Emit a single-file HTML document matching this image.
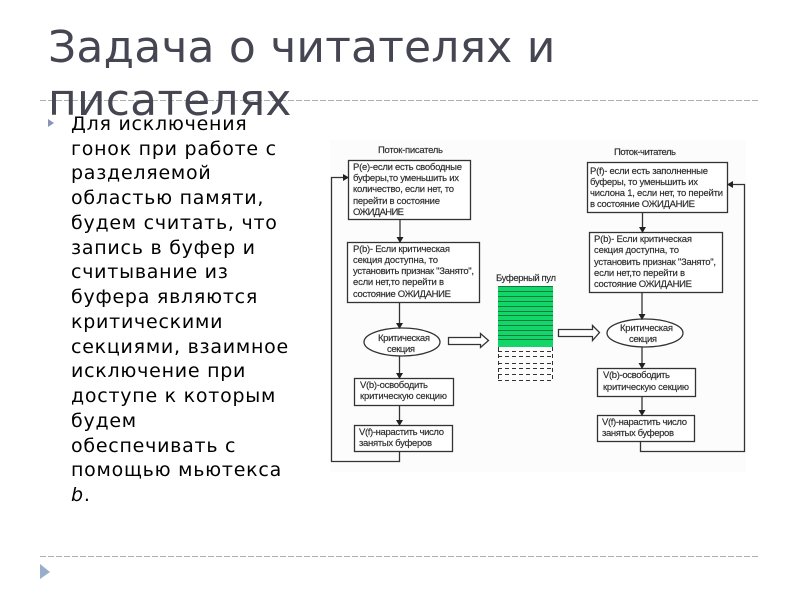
<!DOCTYPE html>
<html lang="ru"><head><meta charset="utf-8"><style>
html,body{margin:0;padding:0;background:#fff}
#p{position:relative;width:800px;height:600px;overflow:hidden;background:#fff}
.t{position:absolute;left:48px;font:44px/1 "DejaVu Sans",sans-serif;color:#464653;white-space:nowrap;letter-spacing:.2px}
.b{position:absolute;left:71px;font:19px/1 "DejaVu Sans",sans-serif;color:#000;white-space:nowrap;letter-spacing:.75px;margin-top:-1px}
svg{position:absolute;left:0;top:0}
</style></head><body><div id="p">
<svg width="800" height="600">
<line x1="40" y1="100.500" x2="760" y2="100.500" stroke="#a8b0b4" stroke-dasharray="6 2"/>
<line x1="40" y1="556.500" x2="760" y2="556.500" stroke="#a8b0b4" stroke-dasharray="6 2"/>
<polygon points="48,119 54,123 48,127" fill="#8a93b8"/>
<polygon points="40,564 50,572 40,579" fill="#98afcb"/>
<rect x="330" y="140" width="416" height="332" fill="#fcfcfc"/>
<g stroke="#333" stroke-width="1.300" fill="#fff" style="filter:blur(.3px)">
<rect x="348.500" y="160.500" width="122" height="59"/>
<rect x="347.500" y="242.500" width="132" height="60"/>
<ellipse cx="402" cy="342" rx="38" ry="14"/>
<rect x="354.500" y="378.500" width="99" height="27"/>
<rect x="354.500" y="425.500" width="98" height="26"/>
<rect x="587.500" y="162.500" width="140" height="50"/>
<rect x="589.500" y="232.500" width="133" height="60"/>
<ellipse cx="645" cy="333" rx="38" ry="14"/>
<rect x="597.500" y="368.500" width="98" height="28"/>
<rect x="597.500" y="415.500" width="97" height="26"/>
<g fill="none">
<path d="M400 219V238M399.500 302V324M399.500 356V374M399.500 405V421"/>
<path d="M399.500 451V461.500H331.500V177.500H344"/>
<path d="M642.500 212V228M642 292V315M642 347V364M642 396V411"/>
<path d="M640.500 441V451.500H744.500V184.500H732"/>
</g>
<polygon points="448.500,337.500 480.500,337.500 480.500,333.500 488.500,340.500 480.500,347.500 480.500,344.500 448.500,344.500"/>
<polygon points="558.500,329.500 592.500,329.500 592.500,325.500 599.500,332.500 592.500,340.500 592.500,336.500 558.500,336.500"/>
</g>
<g fill="#222">
<path d="M396.500 237h7l-3.500 6zM396 323h7l-3.500 6zM396 373h7l-3.500 6zM396 420h7l-3.500 6z"/>
<path d="M343 174l6 3.500-6 3.500zM733 181l-6 3.500 6 3.500z"/>
<path d="M639 227h7l-3.500 6zM638.500 314h7l-3.500 6zM638.500 363h7l-3.500 6zM638.500 410h7l-3.500 6z"/>
</g>
<rect x="498" y="286" width="55" height="61" fill="#12d768"/>
<path d="M498 286.500H553M498 291.500H553M498 296.500H553M498 301.500H553M498 306.500H553M498 311.500H553M498 315.500H553M498 320.500H553M498 325.500H553M498 330.500H553M498 335.500H553M498 339.500H553" stroke="#0b7a40" stroke-width="1"/>
<path d="M498 351.500H553M498 356.500H553M498 363.500H553M498 368.500H553M498 374.500H553M498 380.500H553M498.500 347V382M552.500 347V382" stroke="#333" stroke-width="1" stroke-dasharray="4 3"/>
<g font-family="'Liberation Sans',sans-serif" font-size="9.500" fill="#2a2a2a" stroke="#2a2a2a" stroke-width=".15" style="filter:blur(.25px)">
<text x="378" y="153" textLength="65">Поток-писатель</text>
<text x="353" y="170" textLength="109">P(e)-если есть свободные</text>
<text x="353" y="181" textLength="106">буферы,то уменьшить их</text>
<text x="353" y="192" textLength="101">количество, если нет, то</text>
<text x="353" y="204" textLength="87">перейти в состояние</text>
<text x="353" y="215" textLength="51">ОЖИДАНИЕ</text>
<text x="353" y="252" textLength="97">P(b)- Если критическая</text>
<text x="353" y="263" textLength="85">секция доступна, то</text>
<text x="353" y="274" textLength="121">установить признак "Занято",</text>
<text x="353" y="285" textLength="91">если нет,то перейти в</text>
<text x="353" y="297" textLength="98">состояние ОЖИДАНИЕ</text>
<text x="378" y="341" textLength="52">Критическая</text>
<text x="387" y="352" textLength="28">секция</text>
<text x="360" y="388" textLength="68">V(b)-освободить</text>
<text x="360" y="399" textLength="87">критическую секцию</text>
<text x="359" y="435" textLength="85">V(f)-нарастить число</text>
<text x="359" y="446" textLength="73">занятых буферов</text>
<text x="496" y="281" textLength="60">Буферный пул</text>
<text x="614" y="155" textLength="62">Поток-читатель</text>
<text x="590" y="174" textLength="118">P(f)- если есть заполненные</text>
<text x="590" y="185" textLength="108">буферы, то уменьшить их</text>
<text x="590" y="196" textLength="133">числона 1, если нет, то перейти</text>
<text x="590" y="207" textLength="105">в состояние ОЖИДАНИЕ</text>
<text x="594" y="242" textLength="98">P(b)- Если критическая</text>
<text x="594" y="253" textLength="85">секция доступна, то</text>
<text x="594" y="265" textLength="122">установить признак "Занято",</text>
<text x="594" y="276" textLength="91">если нет,то перейти в</text>
<text x="594" y="287" textLength="98">состояние ОЖИДАНИЕ</text>
<text x="620" y="331" textLength="53">Критическая</text>
<text x="629" y="342" textLength="28">секция</text>
<text x="603" y="378" textLength="67">V(b)-освободить</text>
<text x="603" y="390" textLength="86">критическую секцию</text>
<text x="602" y="425" textLength="85">V(f)-нарастить число</text>
<text x="602" y="436" textLength="72">занятых буферов</text>
</g>
</svg>
<div class="t" style="top:26px">Задача о читателях и</div>
<div class="t" style="top:79px">писателях</div>
<div class="b" style="top:116px">Для исключения</div>
<div class="b" style="top:141px">гонок при работе с</div>
<div class="b" style="top:165px">разделяемой</div>
<div class="b" style="top:190px">областью памяти,</div>
<div class="b" style="top:215px">будем считать, что</div>
<div class="b" style="top:240px">запись в буфер и</div>
<div class="b" style="top:264px">считывание из</div>
<div class="b" style="top:289px">буфера являются</div>
<div class="b" style="top:314px">критическими</div>
<div class="b" style="top:339px">секциями, взаимное</div>
<div class="b" style="top:363px">исключение при</div>
<div class="b" style="top:388px">доступе к которым</div>
<div class="b" style="top:413px">будем</div>
<div class="b" style="top:438px">обеспечивать с</div>
<div class="b" style="top:462px">помощью мьютекса</div>
<div class="b" style="top:487px"><i>b</i>.</div>
</div></body></html>
